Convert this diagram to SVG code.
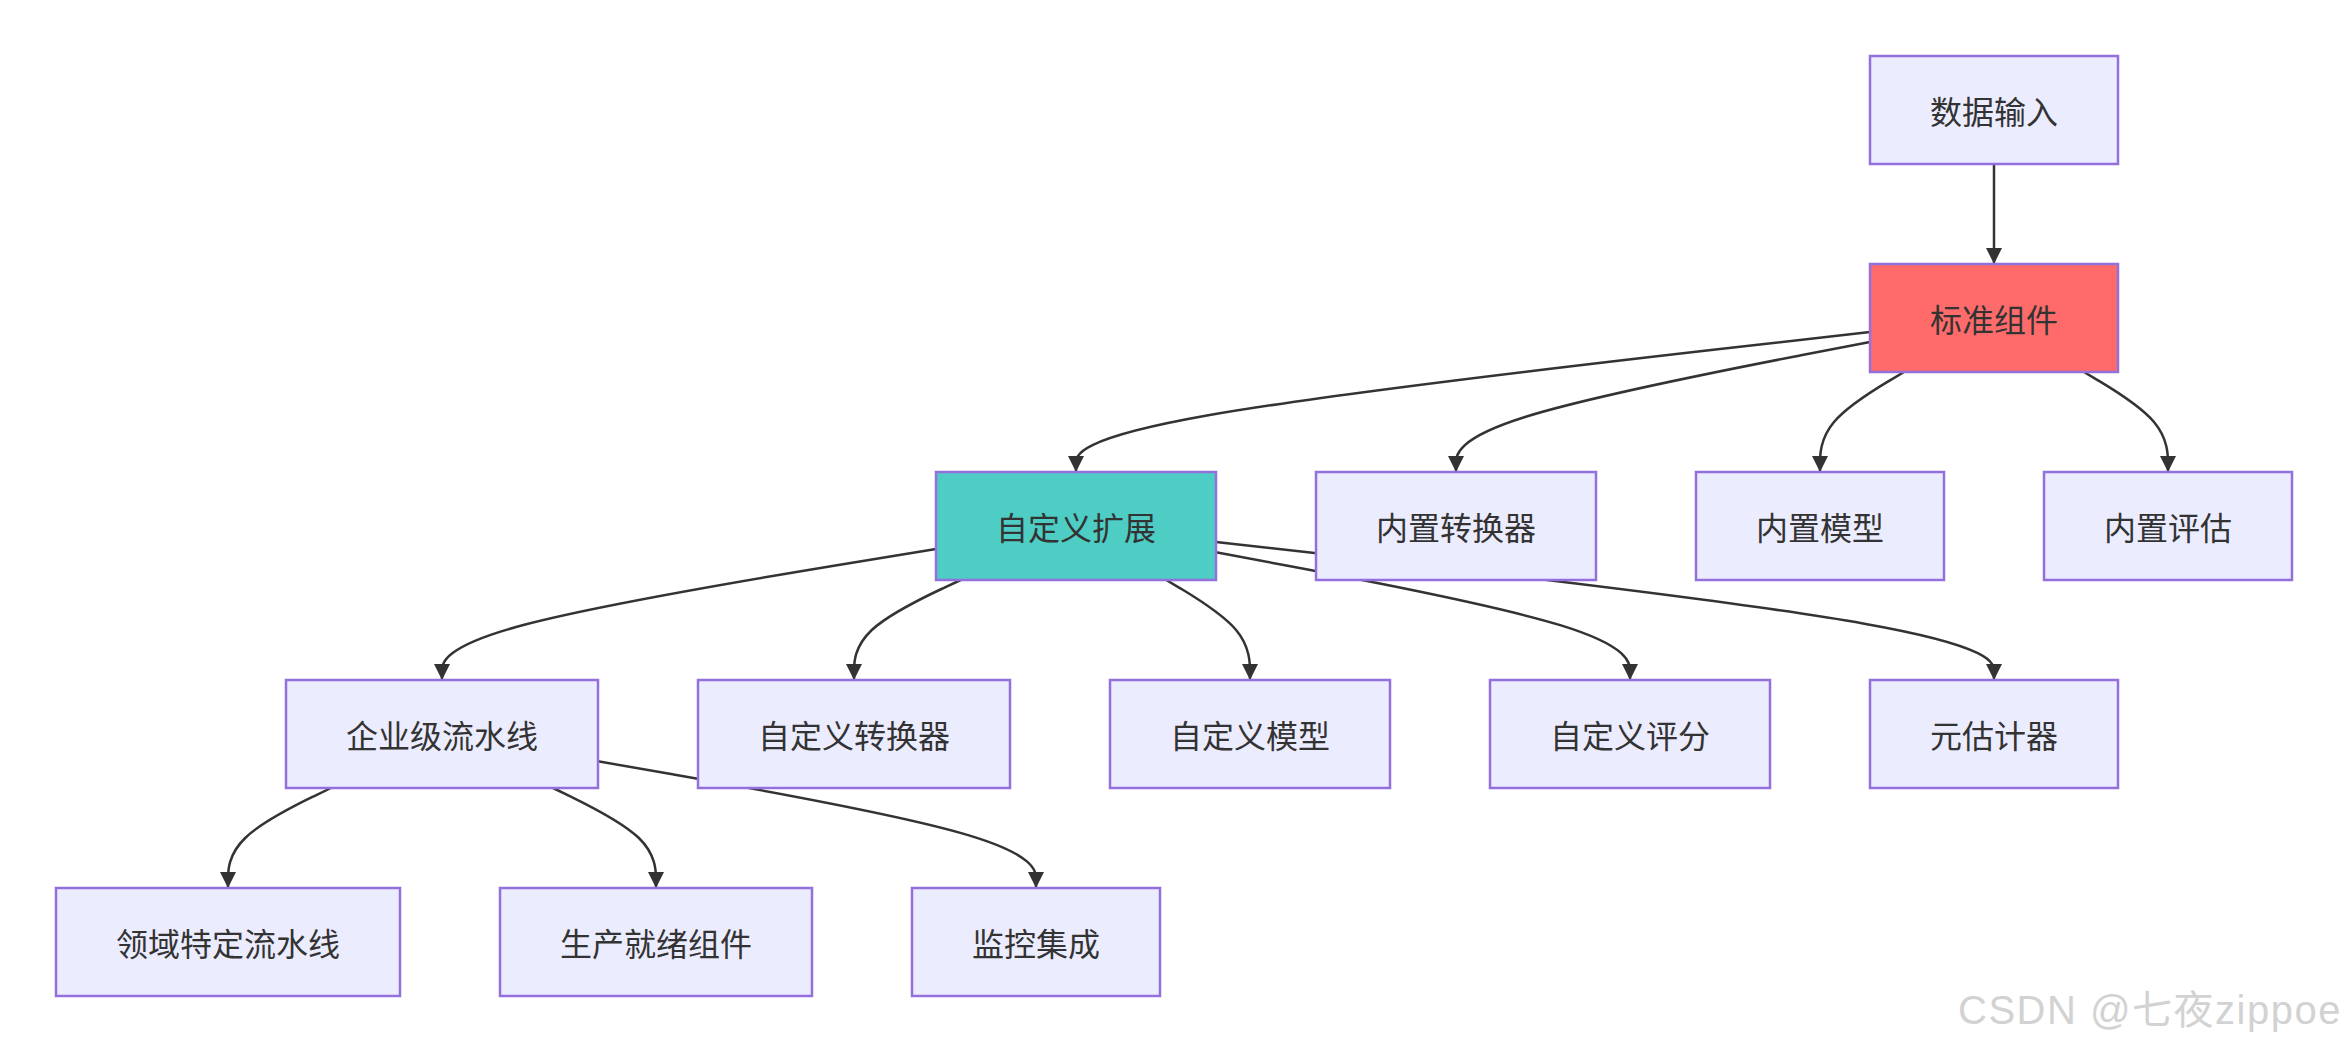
<svg xmlns="http://www.w3.org/2000/svg" width="2348" height="1052" viewBox="0 0 2348 1052">
<style>
.node rect{fill:#ECECFF;stroke:#9370DB;stroke-width:2.5}
.node text{font-family:"Noto Sans CJK SC","Noto Sans",sans-serif;font-size:32px;fill:#333;text-anchor:middle;dominant-baseline:central}
.edge{fill:none;stroke:#333;stroke-width:2.5}
.red rect{fill:#FF6B6B}
.teal rect{fill:#4ECDC4}
.wm{font-family:"Liberation Sans","Noto Sans CJK SC",sans-serif;font-size:40px;letter-spacing:1.5px;fill:#d2d2d2}
</style>
<defs>
<marker id="arr" markerUnits="userSpaceOnUse" markerWidth="16" markerHeight="16" viewBox="0 0 10 10" refX="10" refY="5" orient="auto">
<path d="M0,0 L10,5 L0,10 z" fill="#333"/>
</marker>
</defs>
<rect width="2348" height="1052" fill="#fff"/>
<g id="connectors">
<path class="edge" marker-end="url(#arr)" d="M1994,164 L1994,264"/>
<path class="edge" marker-end="url(#arr)" d="M1870,332 L1737.7,347 C1605.3,362 1340.7,392 1208.3,415.3 C1076,438.7 1076,455.3 1076,463.7 L1076,472"/>
<path class="edge" marker-end="url(#arr)" d="M1870,342 L1801,355.3 C1732,368.7 1594,395.3 1525,417 C1456,438.7 1456,455.3 1456,463.7 L1456,472"/>
<path class="edge" marker-end="url(#arr)" d="M1904,372 L1890,380.3 C1876,388.7 1848,405.3 1834,422 C1820,438.7 1820,455.3 1820,463.7 L1820,472"/>
<path class="edge" marker-end="url(#arr)" d="M2084,372 L2098,380.3 C2112,388.7 2140,405.3 2154,422 C2168,438.7 2168,455.3 2168,463.7 L2168,472"/>
<path class="edge" marker-end="url(#arr)" d="M936,549 L853.7,562.5 C771.3,576 606.7,603 524.3,624.8 C442,646.7 442,663.3 442,671.7 L442,680"/>
<path class="edge" marker-end="url(#arr)" d="M960.7,580 L942.9,588.3 C925.1,596.7 889.6,613.3 871.8,630 C854,646.7 854,663.3 854,671.7 L854,680"/>
<path class="edge" marker-end="url(#arr)" d="M1166.3,580 L1180.3,588.3 C1194.2,596.7 1222.1,613.3 1236.1,630 C1250,646.7 1250,663.3 1250,671.7 L1250,680"/>
<path class="edge" marker-end="url(#arr)" d="M1216,552.3 L1285,565.3 C1354,578.2 1492,604.1 1561,625.4 C1630,646.7 1630,663.3 1630,671.7 L1630,680"/>
<path class="edge" marker-end="url(#arr)" d="M1216,541.9 L1345.7,556.6 C1475.3,571.3 1734.7,600.6 1864.3,623.7 C1994,646.7 1994,663.3 1994,671.7 L1994,680"/>
<path class="edge" marker-end="url(#arr)" d="M330.9,788 L313.8,796.3 C296.6,804.7 262.3,821.3 245.2,838 C228,854.7 228,871.3 228,879.7 L228,888"/>
<path class="edge" marker-end="url(#arr)" d="M553.1,788 L570.3,796.3 C587.4,804.7 621.7,821.3 638.9,838 C656,854.7 656,871.3 656,879.7 L656,888"/>
<path class="edge" marker-end="url(#arr)" d="M598,761.3 L671,774.1 C744,786.9 890,812.4 963,833.6 C1036,854.7 1036,871.3 1036,879.7 L1036,888"/>
</g>
<g id="n-input" class="node"><rect x="1870" y="56" width="248" height="108"/><text x="1994" y="110">数据输入</text></g>
<g id="n-std" class="node red"><rect x="1870" y="264" width="248" height="108"/><text x="1994" y="318">标准组件</text></g>
<g id="n-custom" class="node teal"><rect x="936" y="472" width="280" height="108"/><text x="1076" y="526">自定义扩展</text></g>
<g id="n-bt" class="node"><rect x="1316" y="472" width="280" height="108"/><text x="1456" y="526">内置转换器</text></g>
<g id="n-bm" class="node"><rect x="1696" y="472" width="248" height="108"/><text x="1820" y="526">内置模型</text></g>
<g id="n-be" class="node"><rect x="2044" y="472" width="248" height="108"/><text x="2168" y="526">内置评估</text></g>
<g id="n-ent" class="node"><rect x="286" y="680" width="312" height="108"/><text x="442" y="734">企业级流水线</text></g>
<g id="n-ct" class="node"><rect x="698" y="680" width="312" height="108"/><text x="854" y="734">自定义转换器</text></g>
<g id="n-cm" class="node"><rect x="1110" y="680" width="280" height="108"/><text x="1250" y="734">自定义模型</text></g>
<g id="n-cs" class="node"><rect x="1490" y="680" width="280" height="108"/><text x="1630" y="734">自定义评分</text></g>
<g id="n-meta" class="node"><rect x="1870" y="680" width="248" height="108"/><text x="1994" y="734">元估计器</text></g>
<g id="n-dom" class="node"><rect x="56" y="888" width="344" height="108"/><text x="228" y="942">领域特定流水线</text></g>
<g id="n-prod" class="node"><rect x="500" y="888" width="312" height="108"/><text x="656" y="942">生产就绪组件</text></g>
<g id="n-mon" class="node"><rect x="912" y="888" width="248" height="108"/><text x="1036" y="942">监控集成</text></g>
<text class="wm" x="1958" y="1024">CSDN @七夜zippoe</text>
</svg>
